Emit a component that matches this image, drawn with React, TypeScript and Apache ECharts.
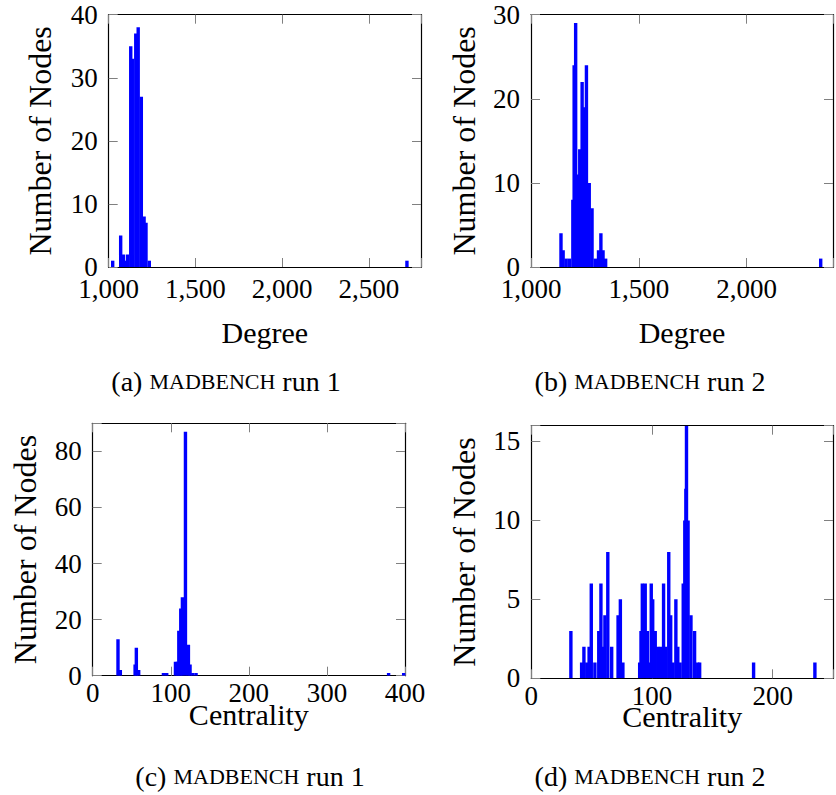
import React, { useEffect, useRef } from 'react';
import * as echarts from 'echarts';

// (a) madbench run 1 — degree histogram
const run1Degree = [1023, 1069, 1084, 1094, 1108, 1127, 1136, 1156, 1170, 1188, 1204, 1215, 1234, 2719];
const run1DegreeNodes = [1, 5, 2, 1, 2, 35, 33, 37, 38, 27, 8, 7, 1, 1];

// (b) madbench run 2 — degree histogram
const run2Degree = [1139, 1149, 1163, 1178, 1194, 1200, 1207, 1216, 1226, 1237, 1246, 1257, 1270, 1283, 1298, 1313, 1324, 1334, 1346, 2343];
const run2DegreeNodes = [4, 2, 1, 1, 8, 24, 29, 11, 14, 22, 19, 24, 10, 7, 1, 2, 4, 2, 1, 1];

// (c) madbench run 1 — centrality histogram
const run1Centrality = [32.4, 35.4, 54.3, 55.9, 58.9, 90.6, 94.8, 106, 108.5, 110.3, 112.8, 114.9, 118.8, 122.6, 124.7, 128.2, 132.4, 379, 398.3];
const run1CentralityNodes = [13, 2, 4, 10, 2, 1, 1, 5, 5, 16, 24, 28, 87, 11, 4, 1, 1, 1, 1];

// (d) madbench run 2 — centrality histogram
const run2Centrality = [32.8, 41.7, 43.6, 46, 47.9, 49.7, 52.7, 55.9, 57.7, 59.7, 61, 63.4, 66.6, 71.9, 73.8, 75.9,
  89.8, 90.9, 92, 94.4, 96.2, 97, 99.4, 100.6, 102.7, 104.8, 107, 109.6, 111.5, 113.9, 115.5, 117.4, 119.8, 121.4,
  123.3, 125.9, 127.2, 128.1, 128.6, 129.9, 132.3, 135.3, 137.9, 139.5, 184.2, 235];
const run2CentralityNodes = [3, 1, 2, 1, 2, 6, 1, 3, 6, 2, 4, 8, 2, 4, 5, 1,
  1, 3, 6, 6, 3, 1, 6, 5, 3, 2, 2, 6, 2, 8, 4, 1, 5, 2,
  1, 6, 10, 12, 16, 10, 4, 3, 1, 1, 1, 1];

const yTitle = 'Number of Nodes';
const captions = ['(a) ', '(b) ', '(c) ', '(d) '];
const captionRun = [' run 1', ' run 2', ' run 1', ' run 2'];

const FONT = 'Liberation Serif';
const BLUE = '#0000ff';

const fmt = (interval: number) => (v: number) =>
  Math.abs(v / interval - Math.round(v / interval)) < 1e-9 ? Math.round(v).toLocaleString('en-US') : '';

const renderBar = (_params: any, api: any) => {
  const x = api.value(0);
  const y = api.value(1);
  const base = api.coord([x, 0]);
  const top = api.coord([x, y]);
  const w = 3.4;
  return {
    type: 'rect',
    shape: { x: base[0] - w / 2, y: top[1], width: w, height: base[1] - top[1] },
    style: { fill: BLUE },
  };
};

export default function App() {
  const ref = useRef<HTMLDivElement>(null);
  useEffect(() => {
    document.body.style.margin = '0';
    if (!ref.current) return;
    const chart = echarts.init(ref.current, undefined, { renderer: 'svg' });

    const panels = [
      { grid: { left: 108.7, top: 14.7, width: 312.3, height: 252.3 }, x: [1000, 2800, 500], y: [0, 40, 10], name: 'Degree', xs: run1Degree, ys: run1DegreeNodes, yGap: 53, xGap: 50, lm: 8 },
      { grid: { left: 531, top: 14.7, width: 312.8, height: 252.3 }, x: [1000, 2400, 500], y: [0, 30, 10], name: 'Degree', xs: run2Degree, ys: run2DegreeNodes, yGap: 51, xGap: 50, lm: 8 },
      { grid: { left: 92.7, top: 423.3, width: 312.3, height: 252.4 }, x: [0, 400, 100], y: [0, 90, 20], name: 'Centrality', xs: run1Centrality, ys: run1CentralityNodes, yGap: 52, xGap: 24, lm: 4 },
      { grid: { left: 531.3, top: 425.7, width: 311.75, height: 252.6 }, x: [0, 250, 100], y: [0, 16, 5], name: 'Centrality', xs: run2Centrality, ys: run2CentralityNodes, yGap: 51, xGap: 23, lm: 4 },
    ];

    const lineStyle = { color: '#000', width: 1.2 };
    const tick = { show: true, inside: true, length: 9, lineStyle: { color: '#808080', width: 1 } };
    const labelStyle = { fontFamily: FONT, fontSize: 27, color: '#000' };

    const grids: any[] = [];
    const xAxes: any[] = [];
    const yAxes: any[] = [];
    const series: any[] = [];

    panels.forEach((p, i) => {
      grids.push({ ...p.grid, containLabel: false });
      const xBase = { type: 'value', gridIndex: i, min: p.x[0], max: p.x[1], interval: p.x[2], splitLine: { show: false }, axisTick: tick, axisLine: { show: true, onZero: false, lineStyle } };
      const yBase = { type: 'value', gridIndex: i, min: p.y[0], max: p.y[1], interval: p.y[2], splitLine: { show: false }, axisTick: tick, axisLine: { show: true, onZero: false, lineStyle } };
      xAxes.push({
        ...xBase, position: 'bottom',
        axisLabel: { ...labelStyle, margin: p.lm, formatter: fmt(p.x[2]) },
        name: p.name, nameLocation: 'middle', nameGap: p.xGap, nameMoveOverlap: false,
        nameTextStyle: { fontFamily: FONT, fontSize: 30, color: '#000' },
      });
      xAxes.push({ ...xBase, position: 'top', axisLabel: { show: false } });
      yAxes.push({
        ...yBase, position: 'left',
        axisLabel: { ...labelStyle, margin: 11, formatter: fmt(p.y[2]) },
        name: yTitle, nameLocation: 'middle', nameGap: p.yGap, nameRotate: 90, nameMoveOverlap: false,
        nameTextStyle: { fontFamily: FONT, fontSize: 32, color: '#000' },
      });
      yAxes.push({ ...yBase, position: 'right', axisLabel: { show: false } });
      series.push({
        type: 'custom',
        xAxisIndex: 2 * i,
        yAxisIndex: 2 * i,
        renderItem: renderBar,
        data: p.xs.map((x, k) => [x, p.ys[k]]),
        clip: true,
      });
    });

    const capPos = [[226, 381], [650, 381], [250, 776], [650, 776]];
    const graphics = capPos.map((c, i) => ({
      type: 'text',
      x: c[0],
      y: c[1],
      style: {
        text: `{n|${captions[i]}}{s|MADBENCH}{n|${captionRun[i]}}`,
        fontFamily: FONT,
        fontSize: 28,
        fill: '#000',
        align: 'center',
        verticalAlign: 'middle',
        rich: {
          n: { fontFamily: FONT, fontSize: 28, fill: '#000', fontWeight: 'normal' },
          s: { fontFamily: FONT, fontSize: 22, fill: '#000', fontWeight: 'normal' },
        },
      },
    }));

    chart.setOption({
      animation: false,
      backgroundColor: '#fff',
      textStyle: { fontFamily: FONT },
      grid: grids,
      xAxis: xAxes,
      yAxis: yAxes,
      series,
      graphic: graphics,
    });
    return () => chart.dispose();
  }, []);
  return <div ref={ref} style={{ width: 836, height: 795 }} />;
}
